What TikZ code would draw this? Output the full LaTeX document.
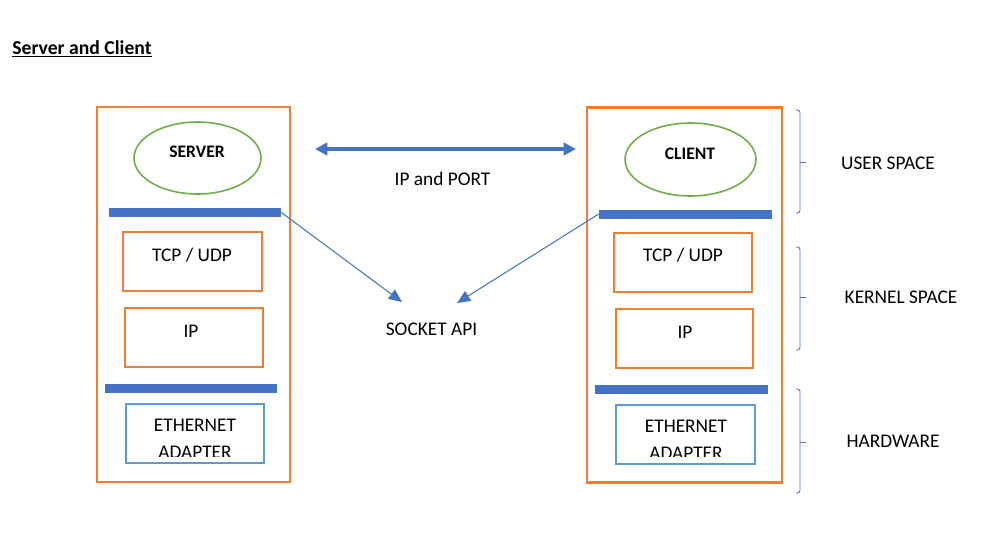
\documentclass[tikz,border=0pt]{standalone}
\usepackage{fontspec}
\setmainfont{Carlito}
\usepackage{xcolor}
\usetikzlibrary{arrows.meta}
\usetikzlibrary{shapes.geometric}

\definecolor{wdorange}{HTML}{ED7D31}
\definecolor{wdgreen}{HTML}{70AD47}
\definecolor{wdblue}{HTML}{4472C4}
\definecolor{wdlight}{HTML}{5B9BD5}

\begin{document}
\begin{tikzpicture}[x=0.02cm,y=-0.02cm,
	stack/.style={draw=wdorange,line width=1.2pt,minimum height=7.5cm,inner sep=0},
	layer/.style={draw=wdorange,line width=1.1pt,minimum height=1.18cm,inner sep=0},
	nic/.style={draw=wdlight,line width=1.1pt,minimum height=1.18cm,inner sep=0},
	app/.style={ellipse,draw=wdgreen,line width=0.9pt,inner sep=0},
	bar/.style={fill=wdblue,minimum height=0.18cm,inner sep=0},
	txt/.style={anchor=base,inner sep=0,font=\fontsize{11}{15.3}\selectfont},
	btxt/.style={anchor=base,inner sep=0,font=\bfseries\fontsize{10}{12}\selectfont},
	brace/.style={draw=wdblue,line width=0.5pt,rounded corners=1.5pt},
	apiarrow/.style={draw=wdblue,line width=0.6pt,-{Triangle[length=7.5pt,width=6.5pt]}},
	portarrow/.style={draw=wdblue,line width=2.2pt,{Triangle[length=7pt,width=7pt]}-{Triangle[length=7pt,width=7pt]}}]
	\useasboundingbox (0,0) rectangle (990,541);
	% title
	\node[anchor=base west,inner sep=0,font=\bfseries\fontsize{11.2}{13}\selectfont] (title) at (12,54) {\underline{Server and Client}};

	% server side
	\node[stack,minimum width=3.86cm] (sstack) at (193.5,294.5) {};
	\node[app,minimum width=2.54cm,minimum height=1.44cm] (sapp) at (197.5,158) {};
	\node[btxt] (sapptxt) at (197,157) {SERVER};
	\node[bar,minimum width=3.44cm] (sbar1) at (195,212.5) {};
	\node[layer,minimum width=2.78cm] (stcp) at (192.5,261.5) {};
	\node[txt] (stcptxt) at (192,261.5) {TCP / UDP};
	\node[layer,minimum width=2.76cm] (sip) at (194,337.5) {};
	\node[txt] (siptxt) at (191,337) {IP};
	\node[bar,minimum width=3.44cm] (sbar2) at (191,388.5) {};
	\node[nic,minimum width=2.76cm] (seth) at (195,433.5) {};
	\begin{scope}
		\clip (126,404) rectangle (264,456);
		\node[txt,align=center] (sethtxt) at (195,458) {ETHERNET\\ADAPTER};
	\end{scope}

	% client side
	\node[stack,minimum width=3.9cm] (cstack) at (684.5,295) {};
	\node[app,minimum width=2.62cm,minimum height=1.46cm] (capp) at (690.5,159.5) {};
	\node[btxt] (capptxt) at (690,159.5) {CLIENT};
	\node[bar,minimum width=3.46cm] (cbar1) at (685.5,214) {};
	\node[layer,minimum width=2.76cm] (ctcp) at (683,262.5) {};
	\node[txt] (ctcptxt) at (683,261) {TCP / UDP};
	\node[layer,minimum width=2.74cm] (cip) at (684.5,338.5) {};
	\node[txt] (ciptxt) at (685,338) {IP};
	\node[bar,minimum width=3.46cm] (cbar2) at (681.5,389.5) {};
	\node[nic,minimum width=2.78cm] (ceth) at (685.5,434.5) {};
	\begin{scope}
		\clip (616,405) rectangle (755,456.5);
		\node[txt,align=center] (cethtxt) at (686,459.5) {ETHERNET\\ADAPTER};
	\end{scope}

	% between the stacks
	\coordinate (portl) at (315,149);
	\coordinate (portr) at (576,149);
	\draw[portarrow] (portl) -- (portr);
	\node[txt] (port) at (442.5,185) {IP and PORT};
	\node[txt] (api) at (431.5,335) {SOCKET API};
	\coordinate (apil) at (402,302);
	\coordinate (apir) at (457,303);
	\draw[apiarrow] (sbar1.east) -- (apil);
	\draw[apiarrow] (cbar1.west) -- (apir);

	% spaces
	\draw[brace] (796,110) -- (800,110) -- (800,213) -- (796,213);
	\draw[brace] (800,162) -- (806,162);
	\draw[brace] (796,247) -- (800,247) -- (800,350) -- (796,350);
	\draw[brace] (800,297) -- (806,297);
	\draw[brace] (796,389) -- (800,389) -- (800,493) -- (796,493);
	\draw[brace] (800,442) -- (806,442);
	\node[txt] (user) at (888,169) {USER SPACE};
	\node[txt] (kernel) at (901,303) {KERNEL SPACE};
	\node[txt] (hw) at (893,447) {HARDWARE};
\end{tikzpicture}
\end{document}
